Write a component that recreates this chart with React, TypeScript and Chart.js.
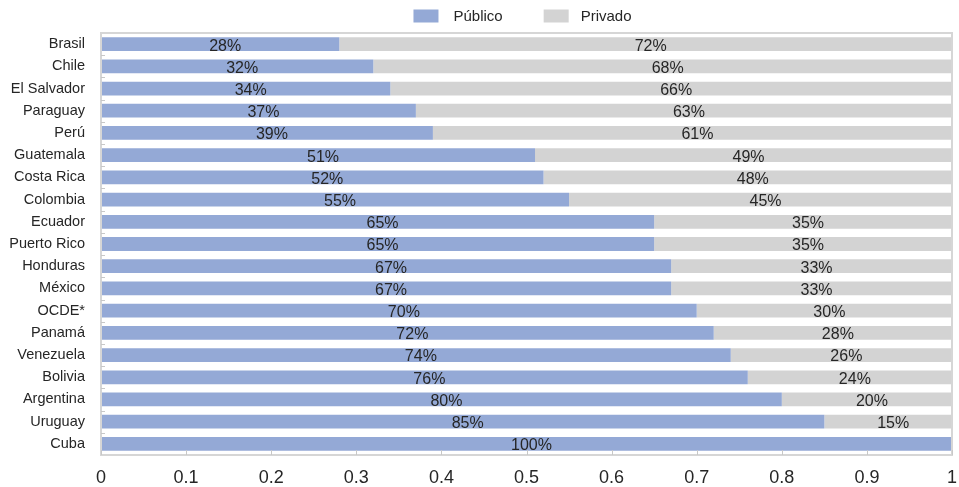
import React, { useEffect, useRef } from "react";
import { Chart, registerables } from "chart.js";

Chart.register(...registerables);

const countries = [
  "Brasil", "Chile", "El Salvador", "Paraguay", "Perú", "Guatemala", "Costa Rica",
  "Colombia", "Ecuador", "Puerto Rico", "Honduras", "México", "OCDE*", "Panamá",
  "Venezuela", "Bolivia", "Argentina", "Uruguay", "Cuba",
];
const publico = [0.28, 0.32, 0.34, 0.37, 0.39, 0.51, 0.52, 0.55, 0.65, 0.65, 0.67, 0.67, 0.70, 0.72, 0.74, 0.76, 0.80, 0.85, 1.0];
const privado = [0.72, 0.68, 0.66, 0.63, 0.61, 0.49, 0.48, 0.45, 0.35, 0.35, 0.33, 0.33, 0.30, 0.28, 0.26, 0.24, 0.20, 0.15, 0.0];
const seriesNames = ["Público", "Privado"];
const xTicks = [0, 0.1, 0.2, 0.3, 0.4, 0.5, 0.6, 0.7, 0.8, 0.9, 1];

const FONT = "'Liberation Sans', Arial, Helvetica, sans-serif";
const BLUE = "#94a9d6";
const GRAY = "#d3d3d3";
const TEXT = "#262626";
const FRAME = "#d6d6d6";

const decorPlugin = {
  id: "decor",
  afterDatasetsDraw(chart: any) {
    const { ctx, chartArea } = chart;
    const { left, right, top, bottom } = chartArea;
    ctx.save();
    // data labels
    ctx.font = `16px ${FONT}`;
    ctx.fillStyle = TEXT;
    ctx.textAlign = "center";
    ctx.textBaseline = "middle";
    chart.data.datasets.forEach((ds: any, di: number) => {
      const meta = chart.getDatasetMeta(di);
      meta.data.forEach((bar: any, i: number) => {
        const v = ds.data[i];
        if (!v) return;
        const x0 = Math.min(bar.x, bar.base);
        const x1 = Math.max(bar.x, bar.base);
        ctx.fillText(`${Math.round(v * 100)}%`, (x0 + x1) / 2 + 5, bar.y + 2);
      });
    });
    // frame
    ctx.strokeStyle = FRAME;
    ctx.lineWidth = 2;
    ctx.strokeRect(left, top, right - left, bottom - top);
    // x tick marks (inward)
    ctx.lineWidth = 1;
    ctx.strokeStyle = "#c8c8c8";
    const xs = chart.scales.x;
    xTicks.forEach((t) => {
      const px = Math.round(xs.getPixelForValue(t)) + 0.5;
      ctx.beginPath();
      ctx.moveTo(px, bottom);
      ctx.lineTo(px, bottom - 5);
      ctx.stroke();
    });
    // y tick marks (inward, at category boundaries)
    const step = (bottom - top) / countries.length;
    for (let i = 1; i < countries.length; i++) {
      const py = Math.round(top + i * step) + 0.5;
      ctx.beginPath();
      ctx.moveTo(left, py);
      ctx.lineTo(left + 4, py);
      ctx.stroke();
    }
    // legend
    ctx.font = `15px ${FONT}`;
    ctx.textAlign = "left";
    ctx.textBaseline = "middle";
    const colors = [BLUE, GRAY];
    const w1 = ctx.measureText(seriesNames[0]).width;
    const w2 = ctx.measureText(seriesNames[1]).width;
    const total = 25 + 15 + w1 + 41 + 25 + 12 + w2;
    const cx = (left + right) / 2;
    let x = cx - total / 2 - 4;
    const ly = 16;
    [0, 1].forEach((k) => {
      ctx.fillStyle = colors[k];
      ctx.fillRect(x, ly - 6.5, 25, 13);
      const tx = x + 25 + (k === 0 ? 15 : 12);
      ctx.fillStyle = TEXT;
      ctx.fillText(seriesNames[k], tx, ly + 1);
      x = tx + (k === 0 ? w1 : w2) + 41;
    });
    ctx.restore();
  },
};

export default function App() {
  const ref = useRef<HTMLCanvasElement | null>(null);
  useEffect(() => {
    document.body.style.margin = "0";
    const chart = new Chart(ref.current as HTMLCanvasElement, {
      type: "bar",
      data: {
        labels: countries,
        datasets: [
          { label: seriesNames[0], data: publico, backgroundColor: BLUE, categoryPercentage: 1, barPercentage: 0.62 },
          { label: seriesNames[1], data: privado, backgroundColor: GRAY, categoryPercentage: 1, barPercentage: 0.62 },
        ],
      },
      options: {
        indexAxis: "y",
        animation: false,
        responsive: false,
        maintainAspectRatio: false,
        layout: { padding: { left: 0, right: 7, top: 33, bottom: 0 } },
        plugins: {
          tooltip: { enabled: false },
          legend: { display: false },
        },
        scales: {
          x: {
            stacked: true,
            min: 0,
            max: 1,
            afterBuildTicks: (scale: any) => {
              scale.ticks = xTicks.map((v) => ({ value: v }));
            },
            afterFit: (scale: any) => {
              scale.height = 32;
              scale.paddingRight = 0;
              scale.paddingLeft = 0;
            },
            ticks: {
              color: TEXT,
              font: { family: FONT, size: 18 },
              padding: 12,
              maxRotation: 0,
              callback: (v: any) => String(Number(Number(v).toFixed(1))),
            },
            grid: { display: false, drawTicks: false },
            border: { display: false },
          },
          y: {
            stacked: true,
            afterFit: (scale: any) => {
              scale.width = 101;
              scale.paddingTop = 0;
              scale.paddingBottom = 0;
            },
            ticks: {
              color: TEXT,
              font: { family: FONT, size: 14.5 },
              padding: 16,
              autoSkip: false,
            },
            grid: { display: false, drawTicks: false },
            border: { display: false },
          },
        },
      },
      plugins: [decorPlugin],
    } as any);
    return () => chart.destroy();
  }, []);
  return (
    <div style={{ width: 959, height: 487 }}>
      <canvas ref={ref} width={959} height={487} style={{ display: "block" }} />
    </div>
  );
}
